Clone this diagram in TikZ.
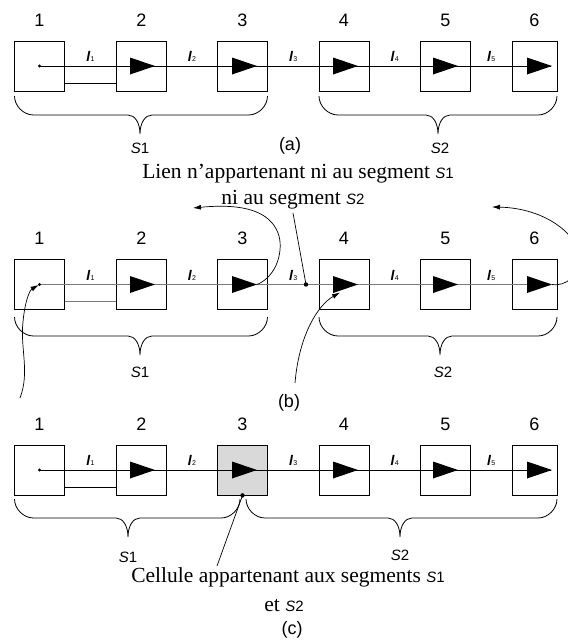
\documentclass[tikz,border=0pt]{standalone}
\usepackage{fontspec}
\setmainfont{Liberation Serif}
\setsansfont{Liberation Sans}
\usetikzlibrary{arrows.meta, positioning, calc}
\definecolor{cgrey}{HTML}{7A7A7A}
\tikzset{
  every picture/.style={x=1pt, y=-1pt, line width=0.8pt},
  cell/.style={draw, minimum width=50pt, minimum height=50pt, inner sep=0pt},
  num/.style={font=\sffamily\fontsize{18}{18}\selectfont},
  lbl/.style={font=\sffamily\fontsize{14}{14}\selectfont, inner sep=0pt},
  seglbl/.style={font=\sffamily\fontsize{15}{15}\selectfont},
  txt/.style={font=\rmfamily\fontsize{21.5}{24}\selectfont, inner sep=0pt},
  plain/.style={draw=black},
  greyline/.style={draw=cgrey, line width=1.2pt},
  curvearrow/.style={-{Latex[length=8pt,width=5pt]}, line width=0.7pt},
}
\newcommand{\lnk}[1]{{\bfseries\itshape l}\kern0.3pt{\fontsize{7}{7}\selectfont#1}}
\newcommand{\seg}[1]{{\sffamily\fontsize{15}{15}\selectfont\textit{S}#1}}

\begin{document}
\begin{tikzpicture}
  \clip (0,0) rectangle (568,641);
  % one row of six cells with the links l1..l5
  \newcommand{\chain}[4]{% #1 row name, #2 y of the centres, #3 link style, #4 style of cell 3
    \foreach \i/\x in {1/39.5, 2/141.5, 4/344, 5/445.5}
      \node[cell] (#1\i) at (\x,#2) {};
    \node[cell, #4] (#13) at (242.5,#2) {};
    \node[cell, minimum width=45pt] (#16) at (534.5,#2) {};
    \foreach \i in {1,...,6}
      \node[num] at ([yshift=46pt]#1\i.center) {\i};
    \draw[#3] (#11.center) -- (551,#2);
    \draw[#3] ([yshift=-17pt]#11.east) -- ([yshift=-17pt]#12.west);
    \fill (#11) circle[radius=1.6pt];
    \foreach \i/\t in {2/155, 3/257, 4/358, 5/458, 6/552} {
      \coordinate (#1t\i) at (\t,#2);
      \fill (#1t\i) -- ++(-25,-8.5) -- ++(0,17) -- cycle;
    }
    \foreach \i/\j in {1/2, 2/3, 3/4, 4/5, 5/6}
      \path (#1\i) -- node[lbl, above=4pt] {\lnk{\i}} (#1\j);
  }
  % curly brace under a segment
  \newcommand{\segbrace}[4]{% #1 left x, #2 right x, #3 tip x, #4 top y
    \draw (#1,#4) .. controls (#1,#4+10) and (#1+9,#4+19) .. (#1+19,#4+19)
      -- (#3-12,#4+19) .. controls (#3-5,#4+19) and (#3,#4+27) .. (#3,#4+38)
      .. controls (#3,#4+27) and (#3+5,#4+19) .. (#3+12,#4+19)
      -- (#2-19,#4+19) .. controls (#2-9,#4+19) and (#2,#4+10) .. (#2,#4);
  }

  % (a)
  \chain{a}{66}{plain}{}
  \segbrace{14.5}{267.5}{140}{96}
  \segbrace{319}{557}{438}{96}
  \node[seglbl] (as1) at (140,148) {\seg{1}};
  \node[seglbl] (as2) at (440,148) {\seg{2}};
  \node[num] (capa) at (290,146) {(a)};
  \node[txt, anchor=base] (lien) at (298,178) {Lien n'appartenant ni au segment \seg{1}};
  \node[txt, anchor=base] (ni) at (293,204) {ni au segment \seg{2}};

  % (b)
  \chain{b}{284.5}{greyline}{}
  \segbrace{14.5}{267.5}{140}{317}
  \segbrace{319}{557}{440}{317}
  \node[seglbl] (bs1) at (140,372) {\seg{1}};
  \node[seglbl] (bs2) at (443,372) {\seg{2}};
  \node[num] (capb) at (289,403) {(b)};
  \coordinate (bd) at ([xshift=-38pt]b4.center);
  \coordinate (nitop) at (293,213);
  \fill (bd) circle[radius=2.2pt];
  \draw[line width=0.7pt] (bd) -- (nitop);
  \coordinate (up1) at (193,208);
  \draw[curvearrow] (bt3) .. controls (278,276) and (284,248) .. (278,233)
    .. controls (270,212) and (245,203) .. (up1);
  \coordinate (up2) at (492,207);
  \draw[curvearrow] (bt6) .. controls (565,287) and (580,275) .. (580,260)
    .. controls (580,235) and (545,208) .. (up2);
  \coordinate (from1) at (20,398);
  \draw[curvearrow, shorten >=1pt] (from1) .. controls (30,372) and (20,348) .. (23,322)
    .. controls (25,300) and (30,290) .. (b1.center);
  \coordinate (from4) at (295,383);
  \draw[curvearrow] (from4) .. controls (299,335) and (318,305) .. ([shift={(-4pt,-8pt)}]b4.center);

  % (c)
  \chain{c}{470}{plain}{fill=gray!30}
  \fill (c3.south) circle[radius=2.2pt];
  \segbrace{14.5}{240}{128}{499}
  \segbrace{246}{557}{400}{499}
  \node[seglbl] (cs1) at (128,557) {\seg{1}};
  \node[seglbl] (cs2) at (400,555) {\seg{2}};
  \node[txt, anchor=base] (cel) at (288,582) {Cellule appartenant aux segments \seg{1}};
  \node[txt, anchor=base] (et) at (284,611) {et \seg{2}};
  \node[num] (capc) at (292,630) {(c)};
  \coordinate (celtop) at (217,566);
  \draw[line width=0.7pt] (c3.south) -- (celtop);
\end{tikzpicture}
\end{document}
